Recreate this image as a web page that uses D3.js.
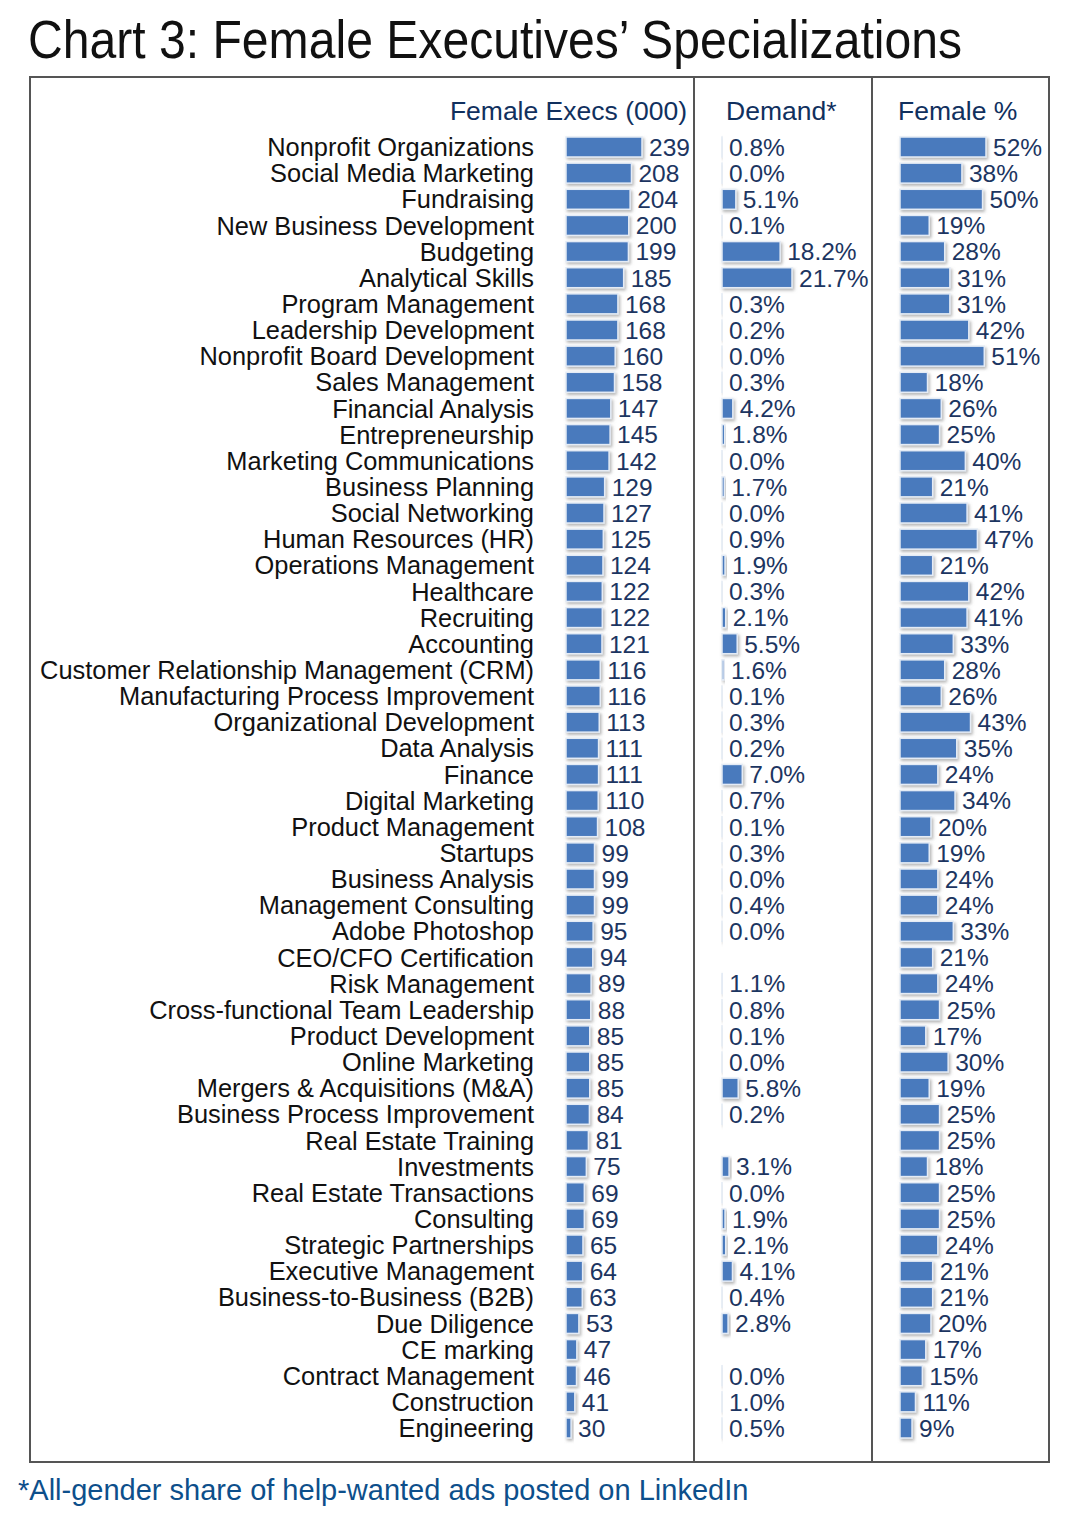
<!DOCTYPE html>
<html lang="en">
  <head>
    <meta charset="UTF-8" />
    <title>Chart 3: Female Executives' Specializations</title>
    <script src="https://d3js.org/d3.v7.min.js"></script>
    <style>
      body {
        margin: 0;
        background: #fff;
      }
      svg text {
        font-family: "Liberation Sans", Arial, sans-serif;
      }
    </style>
  </head>
  <body>
    <div id="chart"></div>
    <script>
      const skills = [
        "Nonprofit Organizations", "Social Media Marketing", "Fundraising",
        "New Business Development", "Budgeting", "Analytical Skills",
        "Program Management", "Leadership Development", "Nonprofit Board Development",
        "Sales Management", "Financial Analysis", "Entrepreneurship",
        "Marketing Communications", "Business Planning", "Social Networking",
        "Human Resources (HR)", "Operations Management", "Healthcare", "Recruiting",
        "Accounting", "Customer Relationship Management (CRM)",
        "Manufacturing Process Improvement", "Organizational Development",
        "Data Analysis", "Finance", "Digital Marketing", "Product Management",
        "Startups", "Business Analysis", "Management Consulting", "Adobe Photoshop",
        "CEO/CFO Certification", "Risk Management", "Cross-functional Team Leadership",
        "Product Development", "Online Marketing", "Mergers & Acquisitions (M&A)",
        "Business Process Improvement", "Real Estate Training", "Investments",
        "Real Estate Transactions", "Consulting", "Strategic Partnerships",
        "Executive Management", "Business-to-Business (B2B)", "Due Diligence",
        "CE marking", "Contract Management", "Construction", "Engineering"
      ];

      // thousands of female executives
      const femaleExecs = [
        239, 208, 204, 200, 199, 185, 168, 168, 160, 158, 147, 145, 142, 129, 127,
        125, 124, 122, 122, 121, 116, 116, 113, 111, 111, 110, 108, 99, 99, 99, 95,
        94, 89, 88, 85, 85, 85, 84, 81, 75, 69, 69, 65, 64, 63, 53, 47, 46, 41, 30
      ];

      // all-gender share of help-wanted ads, % (null = no value shown)
      const demand = [
        0.8, 0.0, 5.1, 0.1, 18.2, 21.7, 0.3, 0.2, 0.0, 0.3, 4.2, 1.8, 0.0, 1.7, 0.0,
        0.9, 1.9, 0.3, 2.1, 5.5, 1.6, 0.1, 0.3, 0.2, 7.0, 0.7, 0.1, 0.3, 0.0, 0.4, 0.0,
        null, 1.1, 0.8, 0.1, 0.0, 5.8, 0.2, null, 3.1, 0.0, 1.9, 2.1, 4.1, 0.4, 2.8,
        null, 0.0, 1.0, 0.5
      ];

      const femalePct = [
        52, 38, 50, 19, 28, 31, 31, 42, 51, 18, 26, 25, 40, 21, 41, 47, 21, 42, 41,
        33, 28, 26, 43, 35, 24, 34, 20, 19, 24, 24, 33, 21, 24, 25, 17, 30, 19, 25,
        25, 18, 25, 25, 24, 21, 21, 20, 17, 15, 11, 9
      ];

      const data = skills.map((s, i) => ({
        skill: s,
        execs: femaleExecs[i],
        demand: demand[i],
        female: femalePct[i],
      }));

      const W = 1080;
      const H = 1532;
      const box = {left: 30, top: 77, right: 1049, bottom: 1462};
      const div1 = 694;
      const div2 = 872;

      const svg = d3
        .select("#chart")
        .append("svg")
        .attr("width", W)
        .attr("height", H);

      const defs = svg.append("defs");
      const filter = defs
        .append("filter")
        .attr("id", "shadow")
        .attr("x", "-20%")
        .attr("y", "-20%")
        .attr("width", "160%")
        .attr("height", "160%");
      filter
        .append("feDropShadow")
        .attr("dx", 1.5)
        .attr("dy", 2)
        .attr("stdDeviation", 1.5)
        .attr("flood-color", "#777")
        .attr("flood-opacity", 0.55);

      // title
      svg
        .append("text")
        .attr("x", 28)
        .attr("y", 58)
        .attr("font-family", "'Liberation Sans Narrow', 'Liberation Sans', sans-serif")
        .attr("font-size", "54px")
        .attr("fill", "#111")
        .attr("textLength", 934)
        .attr("lengthAdjust", "spacingAndGlyphs")
        .text("Chart 3: Female Executives\u2019 Specializations");

      // frame
      svg
        .append("rect")
        .attr("x", box.left)
        .attr("y", box.top)
        .attr("width", box.right - box.left)
        .attr("height", box.bottom - box.top)
        .attr("fill", "none")
        .attr("stroke", "#555")
        .attr("stroke-width", 2);

      [div1, div2].forEach((x) => {
        svg
          .append("line")
          .attr("x1", x)
          .attr("x2", x)
          .attr("y1", box.top)
          .attr("y2", box.bottom)
          .attr("stroke", "#555")
          .attr("stroke-width", 2);
      });

      const y = d3.scalePoint().domain(skills).range([147, 1428]);
      const barH = 20;

      // axis minimums (they do not start at zero)
      const xExec = d3.scaleLinear().domain([15, 239]).range([566, 642]).clamp(true);
      const xDem = d3.scaleLinear().domain([1, 21.7]).range([722, 792]).clamp(true);
      const xFem = d3.scaleLinear().domain([2, 52]).range([900, 986]).clamp(true);

      const headColor = "#10305e";
      const valColor = "#1c3561";

      const heads = [
        {text: "Female Execs (000)", x: 687, anchor: "end"},
        {text: "Demand*", x: 726, anchor: "start"},
        {text: "Female %", x: 898, anchor: "start"},
      ];
      svg
        .selectAll(".head")
        .data(heads)
        .enter()
        .append("text")
        .attr("class", "head")
        .attr("x", (d) => d.x)
        .attr("y", 120)
        .attr("text-anchor", (d) => d.anchor)
        .attr("font-size", "26.5px")
        .attr("fill", headColor)
        .text((d) => d.text);

      // row labels
      svg
        .selectAll(".label")
        .data(data)
        .enter()
        .append("text")
        .attr("class", "label")
        .attr("x", 534)
        .attr("y", (d) => y(d.skill))
        .attr("dy", "0.36em")
        .attr("text-anchor", "end")
        .attr("font-size", "25.4px")
        .attr("fill", "#111")
        .text((d) => d.skill);

      function column(key, scale, fmt) {
        const rows = data.filter((d) => d[key] !== null);
        const g = svg.append("g");
        g.selectAll("rect")
          .data(rows)
          .enter()
          .append("rect")
          .attr("x", scale.range()[0])
          .attr("y", (d) => y(d.skill) - barH / 2)
          .attr("width", (d) => Math.max(0.01, scale(d[key]) - scale.range()[0]))
          .attr("height", barH)
          .attr("fill", "#4a7abd")
          .attr("stroke", "#e4ebf5")
          .attr("stroke-width", 1.5)
          .attr("filter", "url(#shadow)");
        g.selectAll("text")
          .data(rows)
          .enter()
          .append("text")
          .attr("x", (d) => scale(d[key]) + 7)
          .attr("y", (d) => y(d.skill))
          .attr("dy", "0.36em")
          .attr("font-size", "24.5px")
          .attr("fill", valColor)
          .text((d) => fmt(d[key]));
      }

      column("execs", xExec, (v) => v);
      column("demand", xDem, (v) => v.toFixed(1) + "%");
      column("female", xFem, (v) => v + "%");

      // footnote
      svg
        .append("text")
        .attr("x", 18)
        .attr("y", 1500)
        .attr("font-size", "29px")
        .attr("fill", "#0d4f8b")
        .text("*All-gender share of help-wanted ads posted on LinkedIn");
    </script>
  </body>
</html>
